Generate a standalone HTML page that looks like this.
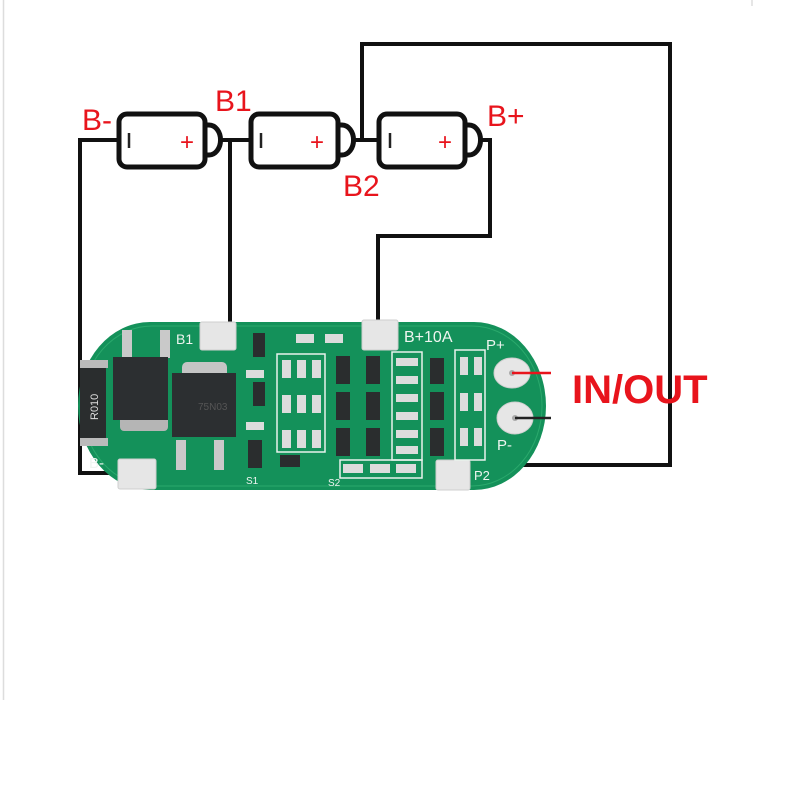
<!DOCTYPE html>
<html><head><meta charset="utf-8"><style>
html,body{margin:0;padding:0;background:#fff;width:800px;height:800px;overflow:hidden}
svg{display:block}
</style></head><body>
<svg width="800" height="800" viewBox="0 0 800 800" xmlns="http://www.w3.org/2000/svg">
<rect width="800" height="800" fill="#fff"/>
<line x1="3.5" y1="0" x2="3.5" y2="700" stroke="#ddd" stroke-width="1.5"/>
<line x1="752" y1="0" x2="752" y2="6" stroke="#ccc" stroke-width="1"/>
<!-- wires -->
<g fill="none" stroke="#111" stroke-width="4">
<polyline points="118,140 80,140 80,473 142,473"/>
<polyline points="215,140 250,140"/>
<polyline points="230,140 230,332"/>
<polyline points="338,140 378,140"/>
<polyline points="362,140 362,44 670,44 670,465 470,465"/>
<polyline points="465,140 490,140 490,236 378,236 378,326"/>
</g>
<!-- batteries -->
<g fill="#fff" stroke="#111" stroke-width="5">
<path d="M205,125 h4 a10,13 0 0 1 0,30 h-4 z"/>
<rect x="119" y="114" width="86" height="53" rx="8"/>
<path d="M338,125 h4 a10,13 0 0 1 0,30 h-4 z"/>
<rect x="251" y="114" width="87" height="53" rx="8"/>
<path d="M465,125 h4 a10,13 0 0 1 0,30 h-4 z"/>
<rect x="379" y="114" width="86" height="53" rx="8"/>
</g>
<g stroke="#222" stroke-width="2.5">
<line x1="129" y1="133" x2="129" y2="148"/><line x1="261" y1="133" x2="261" y2="148"/><line x1="390" y1="133" x2="390" y2="148"/>
</g>
<g fill="#e8141c" font-family="Liberation Sans, sans-serif">
<text x="180" y="150" font-size="24">+</text>
<text x="310" y="150" font-size="24">+</text>
<text x="438" y="150" font-size="24">+</text>
<text x="82" y="130" font-size="30">B-</text>
<text x="215" y="111" font-size="30">B1</text>
<text x="343" y="196" font-size="30">B2</text>
<text x="487" y="126" font-size="30">B+</text>
</g>
<!-- PCB -->
<rect x="78" y="322" width="468" height="168" rx="72" ry="84" fill="#14915a"/>
<rect x="82" y="326" width="460" height="160" rx="70" ry="80" fill="none" stroke="#2aa96c" stroke-width="1"/>
<!-- big parts -->
<rect x="80" y="368" width="26" height="70" fill="#2a2d2e"/>
<rect x="80" y="360" width="28" height="8" fill="#bbb"/>
<rect x="80" y="438" width="28" height="8" fill="#bbb"/>
<text x="98" y="420" font-size="11" fill="#ddd" font-family="Liberation Sans, sans-serif" transform="rotate(-90 98 420)">R010</text>
<rect x="122" y="330" width="10" height="28" fill="#c9c9c9"/><rect x="160" y="330" width="10" height="28" fill="#c9c9c9"/>
<rect x="120" y="415" width="48" height="16" rx="4" fill="#b5b5b5"/>
<rect x="113" y="357" width="55" height="63" fill="#2c2f31"/>
<rect x="182" y="362" width="45" height="16" rx="5" fill="#c5c5c5"/>
<rect x="176" y="440" width="10" height="30" fill="#c9c9c9"/><rect x="214" y="440" width="10" height="30" fill="#c9c9c9"/>
<rect x="172" y="373" width="64" height="64" fill="#2c2f31"/>
<text x="198" y="410" font-size="10" fill="#555" font-family="Liberation Sans, sans-serif">75N03</text>
<!-- pads -->
<g fill="#e6e6e6" stroke="#cfcfcf">
<rect x="200" y="322" width="36" height="28" rx="2"/>
<rect x="362" y="320" width="36" height="30" rx="2"/>
<rect x="118" y="459" width="38" height="30" rx="2"/>
<rect x="436" y="460" width="34" height="30" rx="2"/>
<ellipse cx="512" cy="373" rx="18" ry="15"/>
<ellipse cx="515" cy="418" rx="18" ry="16"/>
</g>
<circle cx="512" cy="373" r="3" fill="#aaa"/><circle cx="515" cy="418" r="3" fill="#aaa"/>
<!-- small components -->
<g fill="none" stroke="#e8f2ec" stroke-width="1.5">
<rect x="277" y="354" width="48" height="98"/>
<rect x="392" y="352" width="30" height="108"/>
<rect x="455" y="350" width="30" height="110"/>
<rect x="340" y="460" width="82" height="18"/>
</g>
<g fill="#2a2d2e">
<rect x="253" y="333" width="12" height="24"/><rect x="253" y="382" width="12" height="24"/><rect x="248" y="440" width="14" height="28"/>
<rect x="280" y="455" width="20" height="12"/>
<rect x="336" y="356" width="14" height="28"/><rect x="366" y="356" width="14" height="28"/>
<rect x="336" y="392" width="14" height="28"/><rect x="366" y="392" width="14" height="28"/>
<rect x="336" y="428" width="14" height="28"/><rect x="366" y="428" width="14" height="28"/>
<rect x="430" y="358" width="14" height="26"/><rect x="430" y="392" width="14" height="28"/><rect x="430" y="428" width="14" height="28"/>
</g>
<g fill="#dcdcdc">
<rect x="296" y="334" width="18" height="9"/><rect x="325" y="334" width="18" height="9"/>
<rect x="246" y="370" width="18" height="8"/><rect x="246" y="422" width="18" height="8"/>
<rect x="282" y="360" width="9" height="18"/><rect x="297" y="360" width="9" height="18"/><rect x="312" y="360" width="9" height="18"/>
<rect x="282" y="395" width="9" height="18"/><rect x="297" y="395" width="9" height="18"/><rect x="312" y="395" width="9" height="18"/>
<rect x="282" y="430" width="9" height="18"/><rect x="297" y="430" width="9" height="18"/><rect x="312" y="430" width="9" height="18"/>
<rect x="396" y="358" width="22" height="8"/><rect x="396" y="376" width="22" height="8"/><rect x="396" y="394" width="22" height="8"/>
<rect x="396" y="412" width="22" height="8"/><rect x="396" y="430" width="22" height="8"/><rect x="396" y="446" width="22" height="8"/>
<rect x="460" y="357" width="8" height="18"/><rect x="474" y="357" width="8" height="18"/>
<rect x="460" y="393" width="8" height="18"/><rect x="474" y="393" width="8" height="18"/>
<rect x="460" y="428" width="8" height="18"/><rect x="474" y="428" width="8" height="18"/>
<rect x="343" y="464" width="20" height="9"/><rect x="370" y="464" width="20" height="9"/><rect x="396" y="464" width="20" height="9"/>
</g>
<g fill="#eef5f0" font-family="Liberation Sans, sans-serif">
<text x="176" y="344" font-size="14">B1</text>
<text x="404" y="342" font-size="16">B+10A</text>
<text x="486" y="350" font-size="15">P+</text>
<text x="497" y="450" font-size="15">P-</text>
<text x="89" y="468" font-size="15">B-</text>
<text x="246" y="484" font-size="10">S1</text>
<text x="328" y="486" font-size="10">S2</text>
<text x="474" y="480" font-size="13">P2</text>
</g>
<!-- out wires -->
<line x1="512" y1="373" x2="551" y2="373" stroke="#e8141c" stroke-width="2.5"/>
<line x1="515" y1="418" x2="551" y2="418" stroke="#222" stroke-width="2.5"/>
<text x="572" y="403" font-size="40" font-weight="bold" fill="#e8141c" font-family="Liberation Sans, sans-serif">IN/OUT</text>
</svg>
</body></html>
